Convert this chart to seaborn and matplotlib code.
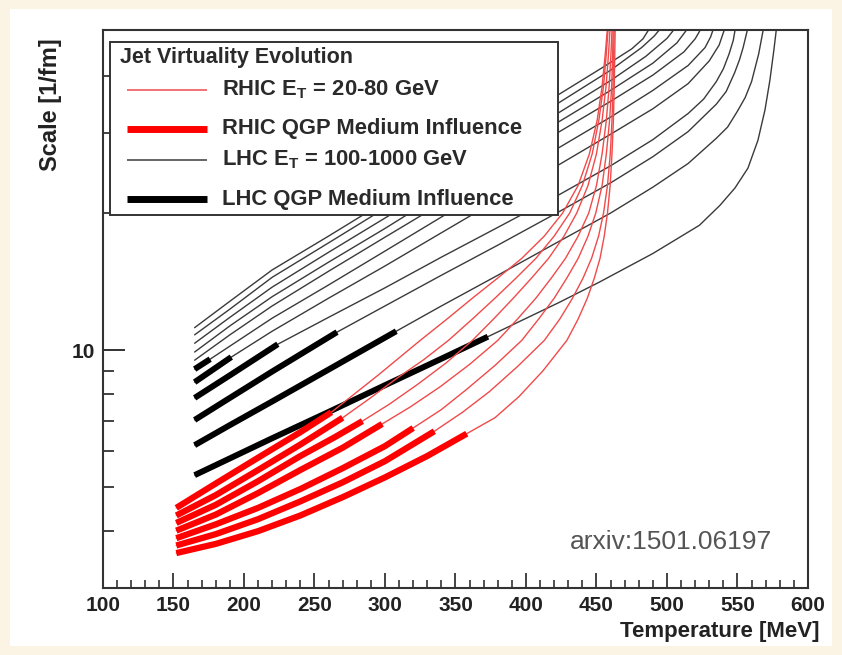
import pandas as pd
import matplotlib.pyplot as plt
import seaborn as sns
from matplotlib.patches import Rectangle
from matplotlib.lines import Line2D
from matplotlib.ticker import MultipleLocator, FixedLocator, FixedFormatter, NullFormatter

# RHIC curves (E_T = 20-80 GeV): temperature [MeV] and scale [1/fm]
rhic_T = [
    [152, 180, 210, 240, 270, 300, 330, 358, 378, 395, 412, 429, 437, 443.5, 448.5, 452.5, 455.5, 457.8, 459.7, 461, 462, 462.6, 463, 463.3],
    [152, 180, 210, 240, 270, 300, 335, 355, 374, 394, 413, 424, 433, 440.5, 446.5, 451.5, 455, 457.8, 459.8, 461, 461.8, 462.2, 462.6],
    [152, 180, 210, 240, 270, 300, 320, 340, 358, 378, 397, 409, 420, 429, 437, 444, 449.5, 454, 457, 459.3, 460.8, 461.5, 461.9],
    [152, 180, 210, 240, 270, 298, 318, 339, 360, 380, 394, 407, 418, 428, 437, 444.5, 450, 454, 457, 459, 460.3, 461.2],
    [152, 180, 210, 240, 265, 284, 303, 323, 343, 362, 377, 391, 404, 416, 427, 436, 444, 450, 454, 456.8, 458.6, 459.8],
    [152, 180, 210, 240, 270, 289, 308, 327, 345, 362, 378, 393, 407, 420, 431, 440, 447, 451.7, 455, 457, 458.5],
    [152, 180, 210, 240, 262, 295, 325, 344, 362, 380, 397, 413, 426, 437, 445, 450.5, 454, 456.3, 458],
]
rhic_Q = [
    [3.58, 3.75, 4.0, 4.33, 4.75, 5.25, 5.85, 6.55, 7.1, 7.9, 9.0, 10.5, 11.7, 13, 14.4, 15.9, 17.8, 20, 23, 27, 32, 38, 45, 52],
    [3.72, 3.94, 4.25, 4.65, 5.12, 5.7, 6.63, 7.3, 8.1, 9.2, 10.5, 11.7, 13, 14.4, 15.9, 17.8, 20, 23, 27, 32, 38, 45, 52],
    [3.86, 4.14, 4.5, 4.95, 5.5, 6.15, 6.74, 7.4, 8.2, 9.25, 10.5, 11.7, 13, 14.4, 15.9, 17.8, 20, 23, 27, 32, 38, 45, 52],
    [4.01, 4.35, 4.85, 5.45, 6.1, 6.88, 7.5, 8.3, 9.3, 10.5, 11.7, 13, 14.4, 15.9, 17.8, 20, 23, 27, 32, 38, 45, 52],
    [4.17, 4.57, 5.15, 5.85, 6.45, 6.98, 7.6, 8.4, 9.35, 10.5, 11.7, 13, 14.4, 15.9, 17.8, 20, 23, 27, 32, 38, 45, 52],
    [4.33, 4.8, 5.45, 6.2, 7.1, 7.82, 8.65, 9.5, 10.5, 11.7, 13, 14.4, 15.9, 17.8, 20, 23, 27, 32, 38, 45, 52],
    [4.5, 5.09, 5.8, 6.6, 7.3, 8.8, 10.5, 11.7, 13, 14.4, 15.9, 17.8, 20, 23, 27, 32, 38, 45, 52],
]
# end of the QGP medium influence (thick) part
rhic_thick_end = [358, 335, 320, 298, 284, 270, 262]

# LHC curves (E_T = 100-1000 GeV)
lhc_T = [
    [165, 190, 220, 260, 300, 340, 380, 423, 455, 475, 483, 489.5],
    [165, 190, 220, 260, 300, 340, 380, 423, 460, 482, 491, 498],
    [165, 190, 220, 260, 300, 340, 380, 423, 460, 485, 500, 508],
    [165, 190, 220, 260, 300, 340, 380, 423, 460, 490, 507, 517],
    [165, 190, 220, 260, 300, 340, 380, 423, 460, 490, 512, 520, 526],
    [165, 176, 190, 220, 260, 300, 340, 380, 423, 460, 490, 515, 527, 531, 534],
    [165, 191, 220, 260, 300, 340, 380, 423, 460, 490, 515, 530, 537, 542],
    [165, 190, 224, 260, 300, 340, 380, 423, 460, 490, 515, 526, 535, 540, 544, 547, 549],
    [165, 190, 220, 266, 300, 340, 380, 423, 460, 490, 515, 535, 542, 548, 551.5, 554, 558],
    [165, 190, 220, 260, 308, 340, 380, 423, 460, 490, 515, 535, 543, 550, 555.5, 560, 565, 569],
    [165, 190, 220, 260, 300, 340, 373, 423, 452, 490, 523, 537.6, 548.2, 557.4, 564.5, 569.5, 573, 575.8, 578],
]
lhc_Q = [
    [11.2, 12.8, 15.0, 17.8, 21.2, 25.3, 30.1, 36.4, 41.9, 45.9, 48.3, 52],
    [10.8, 12.3, 14.45, 17.2, 20.5, 24.4, 29.0, 34.9, 41.2, 46.2, 49.0, 52],
    [10.35, 11.8, 13.75, 16.4, 19.5, 23.2, 27.5, 33.2, 39.1, 44.2, 48.4, 52],
    [9.9, 11.3, 13.1, 15.6, 18.5, 22.1, 26.3, 31.7, 37.2, 42.7, 47.3, 52],
    [9.5, 10.8, 12.5, 14.9, 17.7, 21.0, 25.1, 30.1, 35.2, 40.2, 45.2, 48.3, 52],
    [9.08, 9.55, 10.2, 11.75, 13.9, 16.5, 19.6, 23.2, 27.8, 32.5, 37.2, 42.2, 46.2, 48.8, 52],
    [8.5, 9.65, 11.0, 13.0, 15.3, 18.1, 21.4, 25.5, 29.8, 33.9, 38.5, 43.2, 46.8, 52],
    [7.85, 8.8, 10.3, 11.8, 13.7, 16.0, 18.6, 21.9, 25.4, 29.0, 33.1, 35.6, 38.9, 41.5, 44.7, 47.9, 52],
    [7.02, 7.85, 8.97, 10.95, 12.5, 14.6, 17.0, 20.1, 23.3, 26.6, 30.2, 34.7, 37.0, 40.7, 43.5, 46.2, 52],
    [6.18, 6.84, 7.71, 9.06, 11.0, 12.5, 14.6, 17.3, 20.0, 22.8, 25.7, 29.2, 30.9, 33.5, 35.9, 38.9, 44.7, 52],
    [5.31, 5.78, 6.4, 7.31, 8.37, 9.57, 10.7, 12.7, 14.1, 16.3, 18.8, 20.8, 22.7, 25.1, 28.9, 33.7, 39.2, 45.6, 52],
]
lhc_thick_end = [0, 0, 0, 0, 0, 176, 191, 224, 266, 308, 373]

legend_title = 'Jet Virtuality Evolution'
legend_labels = [r'RHIC $\mathbf{E}_{\mathbf{T}}$ = 20-80 GeV',
                 'RHIC QGP Medium Influence',
                 r'LHC $\mathbf{E}_{\mathbf{T}}$ = 100-1000 GeV',
                 'LHC QGP Medium Influence']


def to_frame(Ts, Qs, ends):
    rows = []
    for i in range(len(Ts)):
        for t, q in zip(Ts[i], Qs[i]):
            rows.append({'curve': i, 'T': t, 'Q': q, 'thick': t <= ends[i]})
    return pd.DataFrame(rows)


rhic = to_frame(rhic_T, rhic_Q, rhic_thick_end)
lhc = to_frame(lhc_T, lhc_Q, lhc_thick_end)

sns.set_style('ticks')
plt.rcParams['font.family'] = ['Liberation Sans', 'DejaVu Sans']
plt.rcParams['mathtext.fontset'] = 'custom'
plt.rcParams['mathtext.rm'] = 'Liberation Sans:bold'
plt.rcParams['mathtext.bf'] = 'Liberation Sans:bold'

fig = plt.figure(figsize=(8.42, 6.55), dpi=100)
fig.patch.set_facecolor('#fbf4e4')
fig.patches.append(Rectangle((0.012, 0.014), 0.976, 0.972, transform=fig.transFigure,
                             facecolor='white', edgecolor='none', zorder=-1))
ax = fig.add_axes([0.1223, 0.1023, 0.8373, 0.8519])

kw = dict(x='T', y='Q', units='curve', estimator=None, sort=False, legend=False, ax=ax)
sns.lineplot(data=lhc, color='#3a3a3a', lw=1.0, **kw)
sns.lineplot(data=lhc[lhc['thick']], color='black', lw=4.3, solid_capstyle='butt', **kw)
sns.lineplot(data=rhic, color='#f04a4a', lw=1.0, **kw)
sns.lineplot(data=rhic[rhic['thick']], color='#ff0000', lw=4.5, solid_capstyle='butt', **kw)

ax.set_yscale('log')
ax.set_xlim(100, 600)
ax.set_ylim(3, 50.5)
ax.set_xlabel('')
ax.set_ylabel('')

ax.xaxis.set_major_locator(MultipleLocator(50))
ax.xaxis.set_minor_locator(MultipleLocator(10))
ax.yaxis.set_major_locator(FixedLocator([10]))
ax.yaxis.set_major_formatter(FixedFormatter(['10']))
ax.yaxis.set_minor_locator(FixedLocator([4, 5, 6, 7, 8, 9, 20, 30, 40]))
ax.yaxis.set_minor_formatter(NullFormatter())
ax.tick_params(which='both', direction='in', top=False, right=False, color='#222222')
ax.tick_params(axis='x', which='major', length=11, width=1.2, labelsize=15, pad=6)
ax.tick_params(axis='x', which='minor', length=6, width=1.1)
ax.tick_params(axis='y', which='major', length=16, width=1.3, labelsize=15, pad=6)
ax.tick_params(axis='y', which='minor', length=8, width=1.2)
for lab in ax.get_xticklabels() + ax.get_yticklabels():
    lab.set_fontweight('bold')
    lab.set_color('#222222')
for s in ax.spines.values():
    s.set_linewidth(1.5)
    s.set_color('#333333')

# legend box (ROOT style)
ax.add_patch(Rectangle((0.0099, 0.6685), 0.6355, 0.31, transform=ax.transAxes,
                       facecolor='white', edgecolor='#333333', lw=1.4, zorder=5))
ax.text(0.024, 0.9516, legend_title, transform=ax.transAxes, fontsize=15.5,
        fontweight='bold', color='#2a2a2a', va='center', ha='left', zorder=6)
leg_y = [0.8925, 0.8226, 0.7670, 0.6971]
leg_style = [('#f04a4a', 1.1), ('#ff0000', 5), ('#3a3a3a', 1.1), ('black', 5)]
for yy, (c, w), lab in zip(leg_y, leg_style, legend_labels):
    ax.add_line(Line2D([0.034, 0.1475], [yy, yy], transform=ax.transAxes, color=c, lw=w,
                       solid_capstyle='butt', zorder=6))
    ax.text(0.1688, yy, lab, transform=ax.transAxes, fontsize=15.8, fontweight='bold',
            color='#2a2a2a', va='center', ha='left', zorder=6)

fig.text(50 / 842, 1 - 38 / 655, 'Scale [1/fm]', rotation=90, ha='center', va='top',
         fontsize=17, fontweight='bold', color='#222222')
fig.text(820 / 842, 1 - 632 / 655, 'Temperature [MeV]', ha='right', va='center',
         fontsize=16, fontweight='bold', color='#222222')
fig.text(570 / 842, 1 - 542 / 655, 'arxiv:1501.06197', ha='left', va='center',
         fontsize=19, color='#555555')

fig.savefig('out.png', dpi=100, facecolor=fig.get_facecolor())
